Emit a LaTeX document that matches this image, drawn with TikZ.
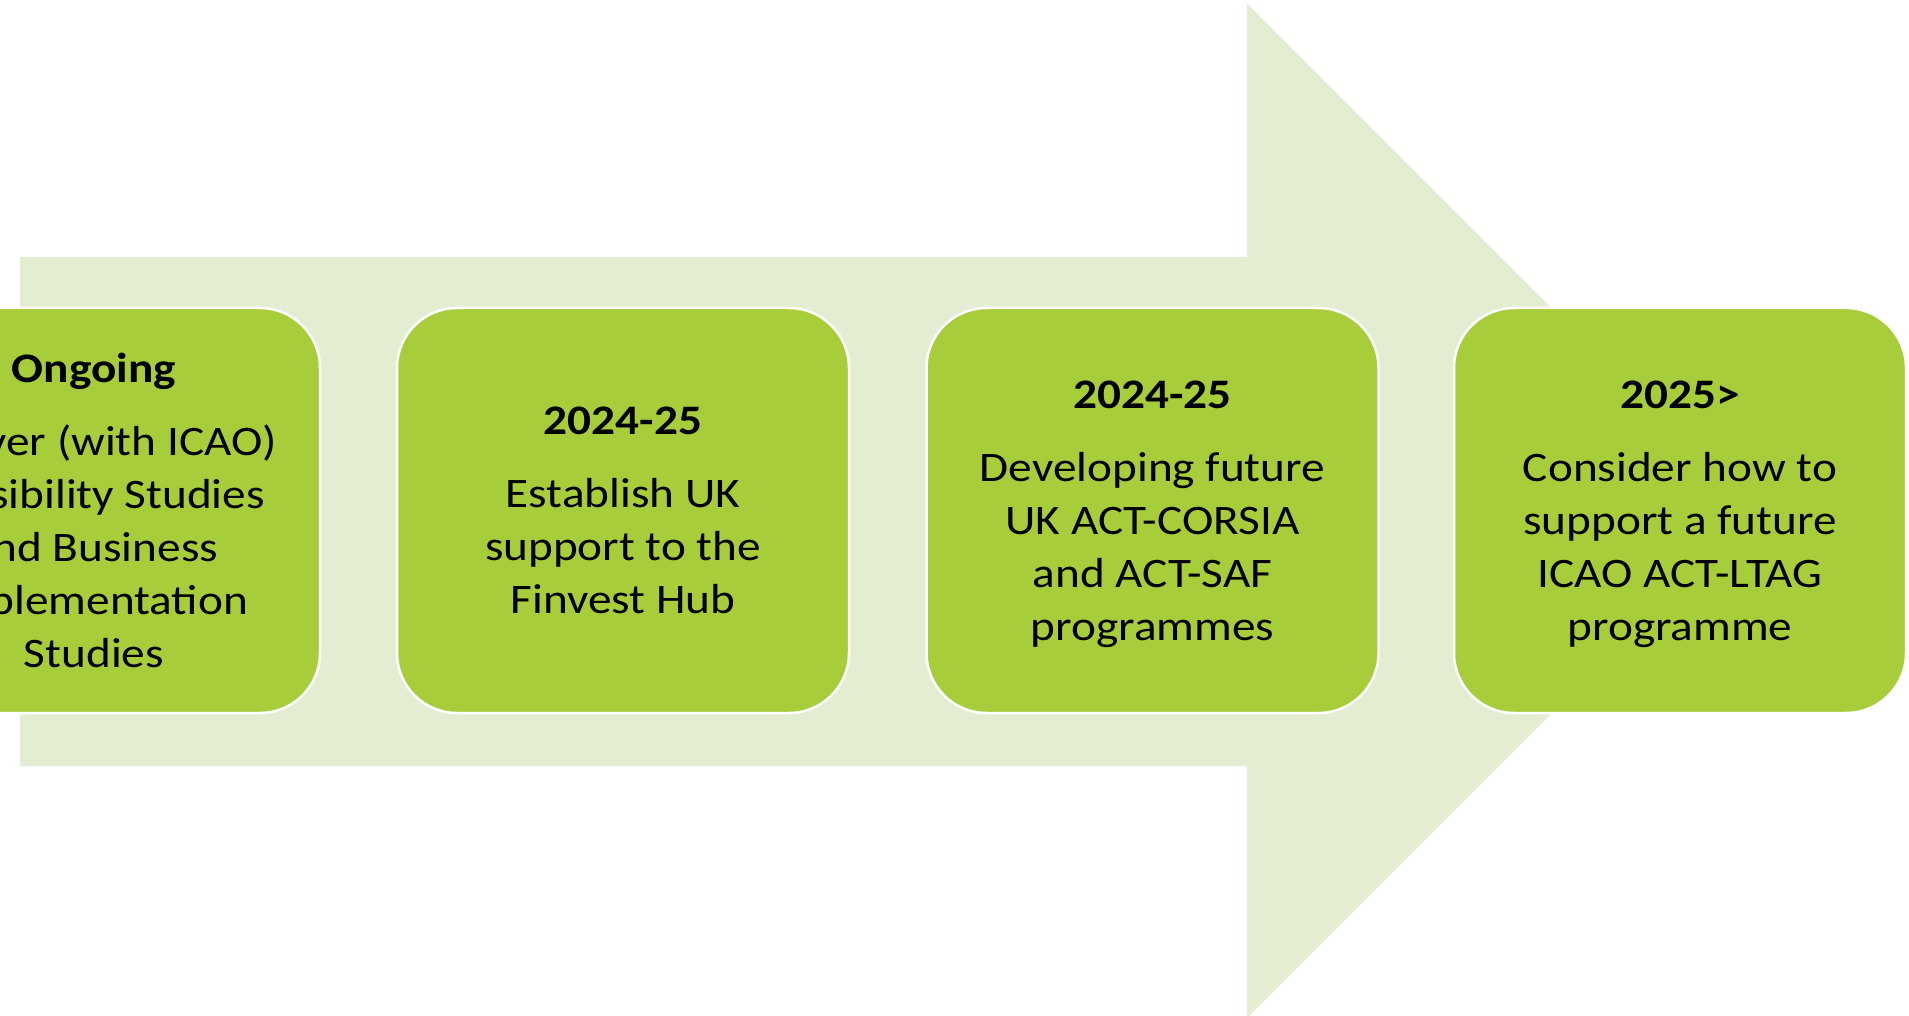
\documentclass[tikz,border=0pt]{standalone}
\usepackage{fontspec}
\setmainfont{Carlito}[FakeStretch=1.125]
\definecolor{arrowgreen}{HTML}{E2EDD2}
\definecolor{boxgreen}{HTML}{A7CE3A}
\tikzset{
  stagebox/.style={draw=white, line width=2.5pt, fill=boxgreen, rounded corners=60pt,
    minimum width=452pt, minimum height=405pt, inner sep=0pt, align=center,
    text depth=0pt, font=\fontsize{42}{53}\selectfont, text=black},
  bigarrow/.style={fill=arrowgreen, draw=none}
}
\begin{document}
\begin{tikzpicture}[x=1pt,y=-1pt]
\useasboundingbox (0,0) rectangle (1909,1016);
\clip (0,0) rectangle (1909,1016);
\fill[bigarrow] (20,257) -- (1247,257) -- (1247,4) -- (1754,511) -- (1247,1018) -- (1247,766) -- (20,766) -- cycle;
\node[stagebox] (b1) at (94,510.5) {\textbf{Ongoing}\\[20pt]Deliver (with ICAO)\\Feasibility Studies\\and Business\\Implementation\\Studies};
\node[stagebox] (b2) at (623,510.5) {\textbf{2024-25}\\[20pt]Establish UK\\support to the\\Finvest Hub};
\node[stagebox] (b3) at (1152.5,510.5) {\textbf{2024-25}\\[20pt]Developing future\\UK ACT-CORSIA\\and ACT-SAF\\programmes};
\node[stagebox] (b4) at (1680,510.5) {\textbf{2025>}\\[20pt]Consider how to\\support a future\\ICAO ACT-LTAG\\programme};
\end{tikzpicture}
\end{document}
